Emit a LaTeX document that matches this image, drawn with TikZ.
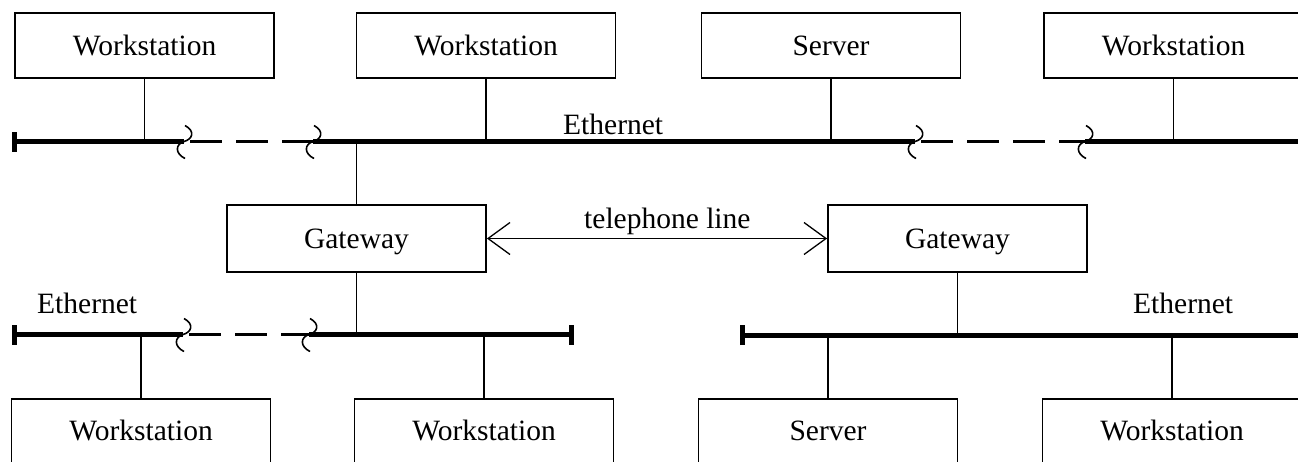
\documentclass[tikz,border=0pt]{standalone}
\usepackage{fontspec}
\setmainfont{Liberation Serif}
\usetikzlibrary{arrows.meta}
\begin{document}
\begin{tikzpicture}[x=1pt,y=-1pt,
  box/.style={draw, line width=1.8pt, minimum width=259pt, minimum height=65pt,
    inner sep=0pt, text height=19.5pt, text depth=0pt, font=\fontsize{29.5}{33}\selectfont},
  lbl/.style={anchor=base west, inner sep=0pt, font=\fontsize{29.5}{33}\selectfont},
  bus/.style={line width=5pt},
  tap/.style={line width=1.3pt},
  gapline/.style={line width=2.2pt, dash pattern=on 32pt off 14pt, dash phase=40pt},
  endbar/.style={line width=5pt},
  squig/.pic={\draw[line width=1.6pt] (1,-16) .. controls (12,-10) and (8,-2) .. (0,0)
      .. controls (-9,3) and (-9,12) .. (1,17);},
  barb/.tip={Straight Barb[length=22pt,width=32pt]}
]
\useasboundingbox (0,0) rectangle (1298,461);
\clip (0,0) rectangle (1298,461);

% top row boxes
\node[box] (w1) at (144.5,45.5) {Workstation};
\node[box] (w2) at (486,45.5) {Workstation};
\node[box] (srv1) at (831,45.5) {Server};
\node[box] (w3) at (1173.5,45.5) {Workstation};

% gateways
\node[box, minimum height=67pt] (gw1) at (356.5,238.5) {Gateway};
\node[box, minimum height=67pt] (gw2) at (957.5,238.5) {Gateway};

% bottom row boxes
\node[box, minimum height=64pt] (w4) at (141,431) {Workstation};
\node[box, minimum height=64pt] (w5) at (484,431) {Workstation};
\node[box, minimum height=64pt] (srv2) at (828,431) {Server};
\node[box, minimum height=64pt] (w6) at (1172,431) {Workstation};

% top bus
\coordinate (tA) at (14.5,141.5);
\coordinate (tB) at (184,141.5);
\coordinate (tC) at (313,141.5);
\coordinate (tD) at (915,141.5);
\coordinate (tE) at (1085,141.5);
\coordinate (tF) at (1302,141.5);
\draw[bus] (tA) -- (tB);
\draw[bus] (tC) -- (tD);
\draw[bus] (tE) -- (tF);
\draw[gapline] (tB) -- (tC);
\draw[gapline] (tD) -- (tE);
\draw[endbar] ([yshift=-10pt]tA) -- ([yshift=10pt]tA);
\pic at (tB) {squig};
\pic at (tC) {squig};
\pic at (tD) {squig};
\pic at (tE) {squig};

% bottom-left bus
\coordinate (bA) at (14,334.5);
\coordinate (bB) at (183,334.5);
\coordinate (bC) at (309,334.5);
\coordinate (bD) at (571.5,334.5);
\draw[bus] (bA) -- (bB);
\draw[bus] (bC) -- (bD);
\draw[gapline] (bB) -- (bC);
\draw[endbar] ([yshift=-10pt]bA) -- ([yshift=10pt]bA);
\draw[endbar] ([yshift=-10pt]bD) -- ([yshift=10pt]bD);
\pic at (bB) {squig};
\pic at (bC) {squig};

% bottom-right bus
\coordinate (rA) at (742.5,335);
\coordinate (rB) at (1302,335);
\draw[bus] (rA) -- (rB);
\draw[endbar] ([yshift=-10pt]rA) -- ([yshift=10pt]rA);

% taps
\draw[tap] (w1.south) -- (w1.south |- tA);
\draw[tap] (w2.south) -- (w2.south |- tA);
\draw[tap] (srv1.south) -- (srv1.south |- tA);
\draw[tap] (w3.south) -- (w3.south |- tA);
\draw[tap] (gw1.north) -- (gw1.north |- tA);
\draw[tap] (gw1.south) -- (gw1.south |- bA);
\draw[tap] (gw2.south) -- (gw2.south |- rA);
\draw[tap] (w4.north) -- (w4.north |- bA);
\draw[tap] (w5.north) -- (w5.north |- bA);
\draw[tap] (srv2.north) -- (srv2.north |- rA);
\draw[tap] (w6.north) -- (w6.north |- rA);

% telephone line
\draw[tap, barb-barb] (gw1.east) -- (gw2.west);

% labels
\node[lbl] (eth1) at (563,134) {Ethernet};
\node[lbl] (tel) at (584,228) {telephone line};
\node[lbl] (eth2) at (37,313) {Ethernet};
\node[lbl] (eth3) at (1133,313) {Ethernet};
\end{tikzpicture}
\end{document}
